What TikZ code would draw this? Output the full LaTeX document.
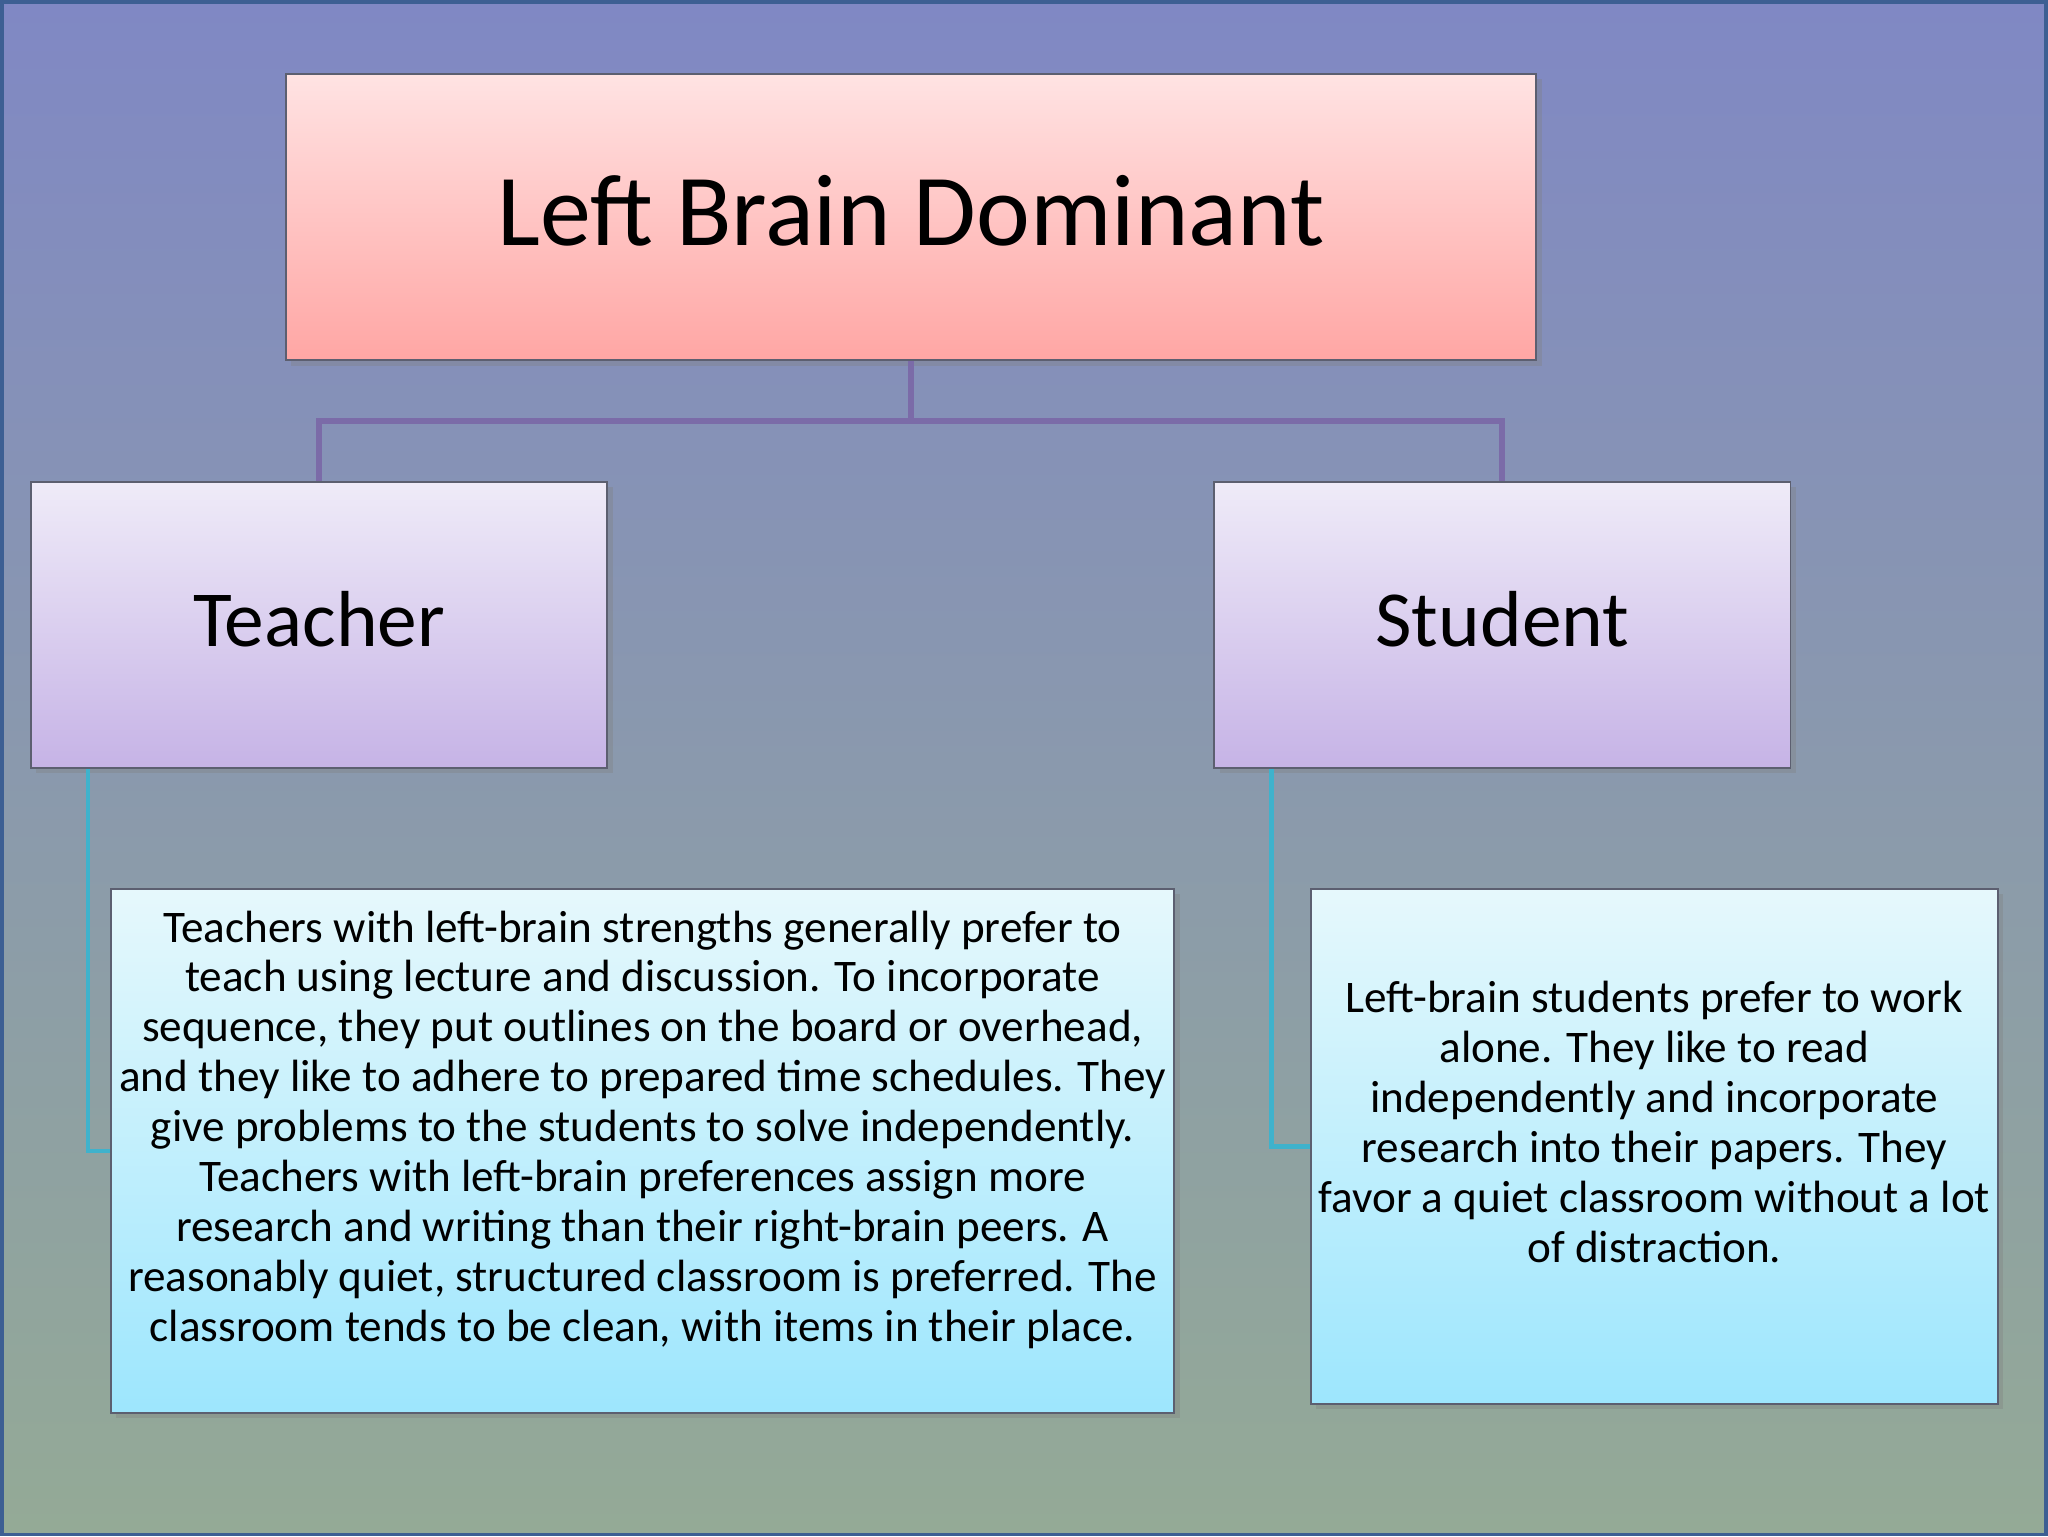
\documentclass[tikz,border=0pt]{standalone}
\usepackage{fontspec}
\setmainfont{Carlito}
\usetikzlibrary{shadows}

\definecolor{bgtop}{HTML}{8088C4}
\definecolor{bgbot}{HTML}{94AA96}
\definecolor{frame}{HTML}{3D5F93}
\definecolor{pinktop}{HTML}{FFE3E3}
\definecolor{pinkbot}{HTML}{FFA6A4}
\definecolor{liltop}{HTML}{EFEBF8}
\definecolor{lilbot}{HTML}{C6B3E6}
\definecolor{aquatop}{HTML}{E6F8FC}
\definecolor{aquabot}{HTML}{9DE6FD}
\definecolor{trunkcol}{HTML}{7B6BA8}
\definecolor{twigcol}{HTML}{3FB2CC}
\definecolor{edgecol}{HTML}{5C5F70}

\tikzset{
  box/.style={draw=edgecol, line width=0.5pt, inner sep=0pt, align=center,
    drop shadow={shadow xshift=1.5pt, shadow yshift=-1.5pt, opacity=0.35}},
  headbox/.style={box, top color=pinktop, bottom color=pinkbot,
    minimum width=12.5cm, minimum height=2.86cm, text depth=3.7pt,
    font=\fontsize{29}{35}\selectfont},
  rolebox/.style={box, top color=liltop, bottom color=lilbot,
    minimum width=5.76cm, minimum height=2.86cm, text depth=3.7pt,
    font=\fontsize{22.6}{27}\selectfont},
  notebox/.style={box, top color=aquatop, bottom color=aquabot,
    font=\fontsize{12.85}{14.2}\selectfont},
  trunk/.style={draw=trunkcol, line width=1.7pt},
  twig/.style={draw=twigcol, line width=1.2pt},
}

\begin{document}
\begin{tikzpicture}[x=0.01cm, y=-0.01cm]
% background
\fill[top color=bgtop, bottom color=bgbot] (0,0) rectangle (2048,1536);
\draw[frame, line width=1pt] (1.5,1.5) rectangle (2046.5,1534.5);

\node[headbox] (lbd) at (911,217) {Left Brain Dominant};
\node[rolebox] (teacher) at (319,625) {Teacher};
\node[rolebox] (student) at (1502.5,625) {Student};

\node[notebox, minimum width=10.63cm, minimum height=5.24cm] (tnote) at (642.5,1151) {%
Teachers with left-brain strengths generally prefer to\\
teach using lecture and discussion. To incorporate\\
sequence, they put outlines on the board or overhead,\\
and they like to adhere to prepared time schedules. They\\
give problems to the students to solve independently.\\
Teachers with left-brain preferences assign more\\
research and writing than their right-brain peers. A\\
reasonably quiet, structured classroom is preferred. The\\
classroom tends to be clean, with items in their place.\\[0pt]};
\node[notebox, minimum width=6.87cm, minimum height=5.15cm] (snote) at (1654.5,1146.5) {%
Left-brain students prefer to work\\
alone. They like to read\\
independently and incorporate\\
research into their papers. They\\
favor a quiet classroom without a lot\\
of distraction.\\[0pt]};

% connectors
\coordinate (fork) at (lbd.south |- 0,421);
\draw[trunk] (lbd.south) -- (fork) -| (teacher.north);
\draw[trunk] (fork) -| (student.north);
\draw[twig] ([xshift=0.58cm]teacher.south west) |- (tnote.west);
\draw[twig] ([xshift=0.58cm]student.south west) |- (snote.west);
\end{tikzpicture}
\end{document}
